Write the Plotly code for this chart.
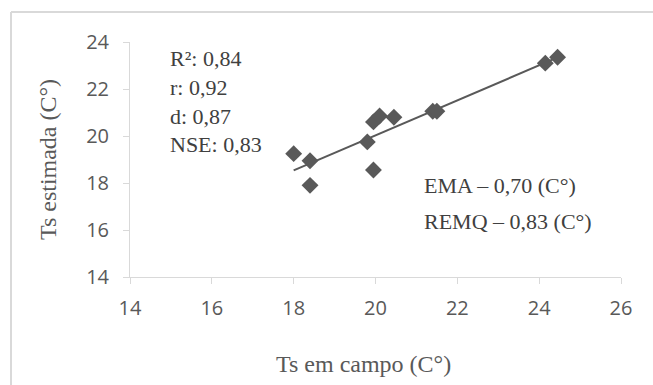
import numpy as np
import plotly.graph_objects as go

# ---- data ----
ts_campo = [18.0, 18.4, 18.4, 19.8, 19.95, 19.95, 20.1, 20.45, 21.4, 21.5, 24.15, 24.45]
ts_estimada = [19.25, 18.95, 17.9, 19.75, 18.55, 20.6, 20.85, 20.8, 21.05, 21.05, 23.1, 23.35]
x_ticks = [14, 16, 18, 20, 22, 24, 26]
y_ticks = [14, 16, 18, 20, 22, 24]
stats_labels = ["R²: 0,84", "r: 0,92", "d: 0,87", "NSE: 0,83"]
error_labels = ["EMA – 0,70 (C°)", "REMQ – 0,83 (C°)"]
x_title = "Ts em campo (C°)"
y_title = "Ts estimada (C°)"

# linear trend line fitted to the data
slope, intercept = np.polyfit(ts_campo, ts_estimada, 1)
fit_x = [min(ts_campo), max(ts_campo)]
fit_y = [slope * v + intercept for v in fit_x]

W, H = 653, 385
PL, PR, PT, PB = 130, 621, 42, 277  # plot area in pixels


def xp(px):
    return (px - PL) / (PR - PL)


def yp(py):
    return (PB - py) / (PB - PT)


GRAY = "#595959"
AXIS = "#d9d9d9"
SERIF = "Liberation Serif, Times New Roman, serif"
SANS = "Open Sans, sans-serif"

fig = go.Figure()
fig.add_trace(go.Scatter(
    x=fit_x, y=fit_y, mode="lines",
    line=dict(color=GRAY, width=2), hoverinfo="skip", showlegend=False))
fig.add_trace(go.Scatter(
    x=ts_campo, y=ts_estimada, mode="markers",
    marker=dict(symbol="diamond", size=13, color=GRAY, line=dict(width=0)),
    showlegend=False))

annotations = []
stat_y = [58.7, 88, 116.3, 144.5]
for txt, py in zip(stats_labels, stat_y):
    annotations.append(dict(
        text=txt, xref="paper", yref="paper", x=xp(168), y=yp(py),
        xanchor="left", yanchor="middle", showarrow=False,
        font=dict(family=SERIF, size=22, color="#404040")))
err_y = [185, 221.6]
for txt, py in zip(error_labels, err_y):
    annotations.append(dict(
        text=txt, xref="paper", yref="paper", x=xp(422), y=yp(py),
        xanchor="left", yanchor="middle", showarrow=False,
        font=dict(family=SERIF, size=22, color="#404040")))
# x-axis title (placed as in the reference, slightly left of plot centre)
annotations.append(dict(
    text=x_title, xref="paper", yref="paper", x=xp(363), y=yp(364),
    xanchor="center", yanchor="middle", showarrow=False,
    font=dict(family=SERIF, size=24, color=GRAY)))

shapes = [
    dict(type="line", xref="paper", yref="paper",
         x0=xp(11), x1=xp(W + 5), y0=yp(12), y1=yp(12),
         line=dict(color=AXIS, width=2)),
    dict(type="line", xref="paper", yref="paper",
         x0=xp(11), x1=xp(11), y0=yp(12), y1=yp(H + 5),
         line=dict(color=AXIS, width=2)),
]

fig.update_layout(
    width=W, height=H, autosize=False,
    margin=dict(l=PL, r=W - PR, t=PT, b=H - PB, pad=0),
    paper_bgcolor="white", plot_bgcolor="white",
    annotations=annotations, shapes=shapes,
    xaxis=dict(
        range=[14, 26], tickvals=x_ticks, ticktext=[str(v) for v in x_ticks],
        showgrid=False, zeroline=False, showline=True, linecolor=AXIS, linewidth=1,
        ticks="outside", ticklen=6, tickcolor=AXIS, tickwidth=1,
        ticklabelstandoff=7,
        tickfont=dict(family=SANS, size=20, color=GRAY),
        automargin=False),
    yaxis=dict(
        range=[14, 24], tickvals=y_ticks, ticktext=[str(v) for v in y_ticks],
        showgrid=False, zeroline=False, showline=True, linecolor=AXIS, linewidth=1,
        ticks="outside", ticklen=6, tickcolor=AXIS, tickwidth=1,
        ticklabelstandoff=10,
        tickfont=dict(family=SANS, size=20, color=GRAY),
        title=dict(text=y_title, standoff=22,
                   font=dict(family=SERIF, size=24, color=GRAY)),
        automargin=False),
)

fig.write_html("out.html")
